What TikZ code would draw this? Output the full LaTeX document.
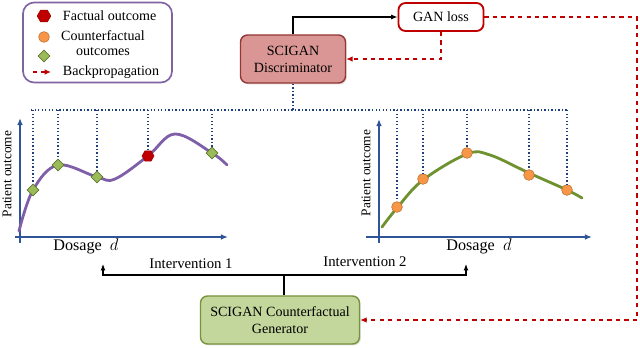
\documentclass[tikz,border=0pt]{standalone}
\usepackage{fontspec}
\setmainfont{Liberation Serif}
\usetikzlibrary{arrows.meta,positioning,shapes.geometric,shadows}
\definecolor{axisblue}{HTML}{2E5597}
\definecolor{dotblue}{HTML}{1F3F7A}
\definecolor{lossred}{HTML}{C00000}
\definecolor{discfill}{HTML}{D99694}
\definecolor{discline}{HTML}{953735}
\definecolor{genfill}{HTML}{C3D69B}
\definecolor{genline}{HTML}{77933C}
\definecolor{curvepurple}{HTML}{7F5FA8}
\definecolor{curvegreen}{HTML}{6E9230}
\definecolor{legendpurple}{HTML}{8064A2}
\definecolor{cfgreen}{HTML}{9BBB59}
\definecolor{cforange}{HTML}{F79646}

\begin{document}
\begin{tikzpicture}[
        x=0.025cm, y=-0.025cm,
        font=\fontsize{10}{12}\selectfont,
        % Estilos
        box/.style={rectangle, draw, rounded corners=5pt, line width=1pt, align=center, inner sep=2pt},
        discbox/.style={box, fill=discfill, draw=discline, minimum width=2.625cm, minimum height=1.2cm, drop shadow={opacity=0.25, shadow xshift=1pt, shadow yshift=-1pt}},
        lossbox/.style={box, fill=white, draw=lossred, line width=1.3pt, minimum width=2.125cm, minimum height=0.7cm},
        genbox/.style={box, fill=genfill, draw=genline, minimum width=3.975cm, minimum height=1.2cm, drop shadow={opacity=0.25, shadow xshift=1pt, shadow yshift=-1pt}},
        factual/.style={regular polygon, regular polygon sides=6, fill=lossred, draw=lossred!80!black, inner sep=0pt, minimum size=0.34cm},
        cfcircle/.style={circle, fill=cforange, draw=cforange!75!black, inner sep=0pt, minimum size=0.27cm},
        cfdiamond/.style={diamond, fill=cfgreen, draw=genline!80!black, inner sep=0pt, minimum size=0.3cm},
        axis/.style={-{Latex[length=5pt, width=4pt]}, line width=1.2pt, draw=axisblue},
        curve/.style={line width=2pt, line cap=round},
        dotline/.style={dash pattern=on 1pt off 1.5pt, line width=1.4pt, draw=dotblue},
        arrow/.style={-{Latex[length=4.5pt, width=3.5pt]}, line width=0.8pt},
        backprop/.style={-{Latex[length=4.5pt, width=4pt]}, dashed, line width=1.2pt, draw=lossred}
    ]
        \useasboundingbox (0,0) rectangle (640,348);

        % Legenda
        \node (legend) [draw=legendpurple, line width=1.2pt, rounded corners=8pt, minimum width=3.725cm, minimum height=2cm] at (97.5,42.5) {};
        \node (legfact) [factual] at (44,16) {};
        \node [anchor=west] at (58,16) {Factual outcome};
        \node (legcirc) [cfcircle] at (44,37) {};
        \node (legdiam) [cfdiamond] at (44,56) {};
        \node [align=center, font=\fontsize{10}{11}\selectfont] at (103,43) {Counterfactual\\outcomes};
        \coordinate (legbpa) at (33,72);
        \coordinate (legbpb) at (51,72);
        \draw [backprop, line width=1pt] (legbpa) -- (legbpb);
        \node [anchor=west] at (58,72) {Backpropagation};

        % Blocos do SCIGAN
        \node (disc) [discbox] at (293,59) {SCIGAN\\Discriminator};
        \node (gan) [lossbox] at (441,17) {GAN loss};
        \node (gen) [genbox] at (280,320) {SCIGAN Counterfactual\\Generator};

        % Grafico 1: eixos
        \draw [axis] (20,243) -- (20,118);
        \draw [axis] (15,237) -- (228,237);
        \node [rotate=90, font=\fontsize{9.5}{11}\selectfont] at (7,174) {Patient outcome};
        \node [font=\fontsize{11.5}{13}\selectfont] at (86,246) {Dosage\ \ $d$};

        % Grafico 1: curva e pontos
        \draw [curve, curvepurple] plot[smooth, tension=0.6] coordinates {(19,231) (33,190) (58,165) (97,177) (115,179) (148,156) (175,134) (212,153) (227,165)};
        \node (a1) [cfdiamond] at (33,190) {};
        \node (a2) [cfdiamond] at (58,165) {};
        \node (a3) [cfdiamond] at (97,177) {};
        \node (a4) [factual, minimum size=0.3cm] at (148,156) {};
        \node (a5) [cfdiamond] at (212,153) {};

        % Grafico 2: eixos
        \draw [axis] (379,243) -- (379,119);
        \draw [axis] (366,237) -- (592,237);
        \node [rotate=90, font=\fontsize{9.5}{11}\selectfont] at (366,173) {Patient outcome};
        \node [font=\fontsize{11.5}{13}\selectfont] at (479,246) {Dosage\ \ $d$};

        % Grafico 2: curva e pontos
        \draw [curve, curvegreen] plot[smooth, tension=0.6] coordinates {(382,227) (397,208) (423,180) (467,154) (490,155) (529,173) (567,190) (582,198)};
        \node (b1) [cfcircle] at (397,207) {};
        \node (b2) [cfcircle] at (423,179) {};
        \node (b3) [cfcircle] at (467,153) {};
        \node (b4) [cfcircle] at (529,175) {};
        \node (b5) [cfcircle] at (567,190) {};

        % --- Linhas pontilhadas do discriminador ---
        \coordinate (hub) at (293,110);
        \coordinate (leftend) at (31,110);
        \coordinate (rightend) at (567,110);
        \draw [dotline] (disc.south) -- (hub);
        \draw [dotline] (leftend) -- (rightend);
        \foreach \p in {a1,a2,a3,a4,a5,b1,b2,b3,b4,b5}
            \draw [dotline] (\p |- hub) -- (\p);

        % --- Conexoes ---
        \draw [arrow] (disc.north) |- (gan.west);
        \draw [backprop] (gan.south) |- (disc.east);
        \coordinate (corner) at (637,17);
        \draw [backprop] (gan.east) -- (corner) |- (gen.east);

        % Intervencoes a partir do gerador
        \coordinate (split) at (284,275);
        \coordinate (int1) at (103,264);
        \coordinate (int2) at (466,264);
        \draw [line width=0.8pt] (gen.north -| split) -- (split);
        \draw [arrow] (split) -| (int1);
        \draw [arrow] (split) -| (int2);
        \node [font=\fontsize{10.5}{12}\selectfont] at (191,264) {Intervention 1};
        \node [font=\fontsize{10.5}{12}\selectfont] at (365,262) {Intervention 2};

    \end{tikzpicture}
\end{document}
